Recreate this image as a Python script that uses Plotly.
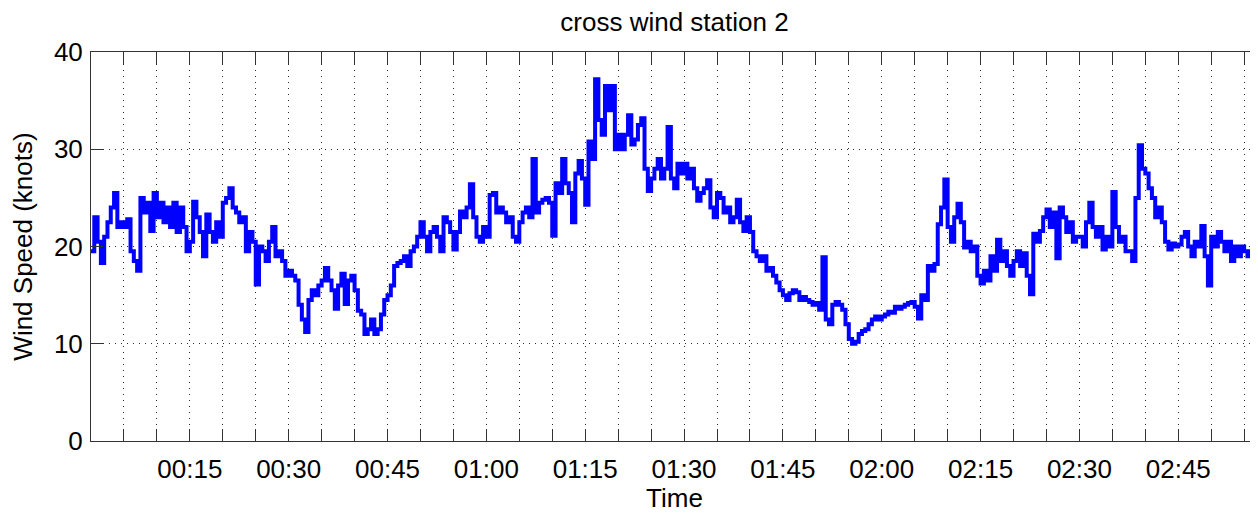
import plotly.graph_objects as go

speed_00_30 = [19.5, 23.0, 20.5, 18.3, 21.0, 22.5, 24.0, 25.5, 22.0, 22.5,
               22.0, 22.8, 19.5, 18.5, 17.5, 25.0, 23.5, 24.5, 21.6, 25.5,
               23.0, 24.5, 22.5, 24.0, 22.0, 24.5, 21.5, 24.0, 22.0, 19.5,
               20.5, 24.6, 23.0, 21.5, 19.0, 23.3, 21.5, 20.5, 22.5, 21.0,
               24.5, 25.0, 26.0, 24.0, 23.5, 22.5, 23.0, 19.5, 21.5, 20.5,
               16.1, 20.0, 19.5, 18.5, 20.5, 22.0, 19.0, 19.5, 18.5, 17.0]
speed_30_60 = [17.5, 17.0, 16.5, 14.0, 12.5, 11.2, 14.5, 15.5, 15.0, 16.0,
               16.5, 17.8, 16.5, 15.5, 13.6, 16.0, 17.2, 14.1, 16.5, 17.0,
               15.5, 13.4, 13.0, 11.0, 11.5, 12.5, 11.0, 11.5, 13.0, 14.5,
               15.0, 16.0, 18.0, 18.3, 18.5, 19.0, 18.0, 19.5, 20.0, 21.0,
               22.5, 21.0, 19.5, 21.5, 22.0, 21.0, 19.5, 23.0, 22.5, 21.5,
               19.7, 21.5, 23.6, 23.0, 24.0, 26.4, 23.0, 21.0, 20.5, 22.0]
speed_60_90 = [21.0, 25.3, 25.5, 23.5, 24.0, 23.5, 22.5, 23.0, 21.0, 20.5,
               22.5, 23.5, 24.0, 23.0, 29.0, 23.5, 24.5, 24.8, 25.0, 24.5,
               21.1, 26.5, 25.5, 29.0, 26.5, 25.5, 22.5, 27.5, 28.8, 27.0,
               24.3, 30.8, 29.0, 37.2, 33.0, 31.5, 36.5, 34.0, 36.5, 30.0,
               31.5, 30.0, 31.5, 33.5, 30.5, 31.0, 32.5, 33.2, 28.0, 25.7,
               27.0, 28.0, 29.0, 27.0, 28.0, 32.3, 27.0, 26.0, 28.5, 27.5]
speed_90_120 = [28.5, 27.0, 28.0, 26.0, 24.7, 25.5, 26.0, 26.8, 24.0, 23.0,
                25.5, 25.0, 23.5, 24.0, 22.5, 23.0, 24.8, 22.5, 21.6, 23.0,
                21.5, 19.5, 19.0, 18.5, 19.0, 17.5, 17.8, 17.0, 16.3, 15.5,
                15.0, 14.5, 15.2, 15.5, 15.3, 14.5, 14.8, 14.5, 14.3, 14.0,
                14.2, 13.5, 18.9, 12.5, 12.0, 14.0, 14.3, 14.0, 13.5, 12.0,
                10.5, 10.0, 10.2, 11.0, 11.3, 11.5, 12.0, 12.5, 12.8, 12.5]
speed_120_150 = [12.8, 13.0, 13.3, 13.2, 13.8, 13.6, 13.8, 14.0, 14.2, 14.3,
                 13.8, 12.6, 15.0, 14.5, 18.0, 17.5, 18.2, 22.3, 24.0, 26.9,
                 22.0, 20.5, 23.0, 24.4, 22.5, 19.9, 20.5, 19.5, 20.0, 17.0,
                 16.2, 17.5, 16.5, 19.0, 17.5, 20.7, 18.5, 19.5, 18.0, 17.0,
                 18.5, 19.5, 18.0, 19.3, 17.0, 15.1, 21.3, 20.5, 21.6, 23.0,
                 23.8, 22.0, 23.5, 18.8, 24.0, 23.0, 21.5, 22.5, 20.5, 21.0]
speed_150_178 = [21.0, 20.0, 22.5, 24.5, 22.0, 21.0, 22.0, 19.7, 21.0, 20.0,
                 25.6, 22.0, 20.5, 21.0, 19.5, 19.5, 18.5, 25.0, 30.4, 28.0,
                 27.5, 26.0, 25.0, 23.0, 24.0, 22.5, 20.5, 19.7, 20.3, 20.0,
                 20.2, 21.0, 21.5, 20.0, 19.0, 20.5, 20.0, 22.1, 19.0, 16.0,
                 21.0, 20.0, 21.5, 20.5, 19.5, 20.5, 18.5, 20.0, 19.0, 20.0,
                 19.5, 19.0, 19.5, 18.5, 19.0, 18.5, 19.0]

speed = (speed_00_30 + speed_30_60 + speed_60_90 + speed_90_120
         + speed_120_150 + speed_150_178)
sample_step_min = 0.5
time_min = [i * sample_step_min for i in range(len(speed))]

# x ticks every 5 minutes, labelled every 15 minutes
tick_minutes = list(range(0, 180, 5))
tick_labels = ["", "", "", "00:15", "", "", "00:30", "", "", "00:45", "", "",
               "01:00", "", "", "01:15", "", "", "01:30", "", "", "01:45", "", "",
               "02:00", "", "", "02:15", "", "", "02:30", "", "", "02:45", "", ""]
y_ticks = [0, 10, 20, 30, 40]

FONT = "Liberation Sans, Arial, Helvetica, sans-serif"
AX = "#333333"
GRID = "#2a2a2a"

# the page body adds an 8 px offset, so the figure is 8 px smaller each way
FIG_W, FIG_H = 1250, 505

fig = go.Figure()
fig.add_trace(go.Scatter(
    x=time_min, y=speed, mode="lines",
    line=dict(color="#0000FF", width=4, shape="hv"),
    showlegend=False, hoverinfo="x+y"))

fig.update_layout(
    width=FIG_W, height=FIG_H,
    margin=dict(l=83, r=0, t=44, b=72, autoexpand=False),
    paper_bgcolor="white", plot_bgcolor="white",
    font=dict(family=FONT, color="black", size=26),
    title=dict(text="cross wind station 2", x=0.5, xref="paper", xanchor="center",
               y=1 - 14 / FIG_H, yref="container", yanchor="middle",
               font=dict(family=FONT, size=26, color="black"),
               automargin=False),
)
fig.update_xaxes(
    range=[0, 177.1], tickmode="array", tickvals=tick_minutes, ticktext=tick_labels,
    ticks="inside", ticklen=12, tickwidth=1, tickcolor=AX,
    showline=True, linecolor=AX, linewidth=1, mirror="ticks",
    showgrid=True, gridcolor=GRID, gridwidth=1, griddash="1px,5px",
    zeroline=False, tickfont=dict(size=26), automargin=False,
    ticklabelstandoff=5,
    title=dict(text="Time", font=dict(size=26)),
)
fig.update_yaxes(
    range=[0, 40], tickmode="array", tickvals=y_ticks,
    ticks="inside", ticklen=12, tickwidth=1, tickcolor=AX,
    showline=True, linecolor=AX, linewidth=1, mirror=False,
    showgrid=True, gridcolor=GRID, gridwidth=1, griddash="1px,5px",
    zeroline=False, tickfont=dict(size=26), automargin=False,
    ticklabelstandoff=2,
    title=dict(text="Wind Speed (knots)", font=dict(size=26)),
)

fig.write_html("out.html")
